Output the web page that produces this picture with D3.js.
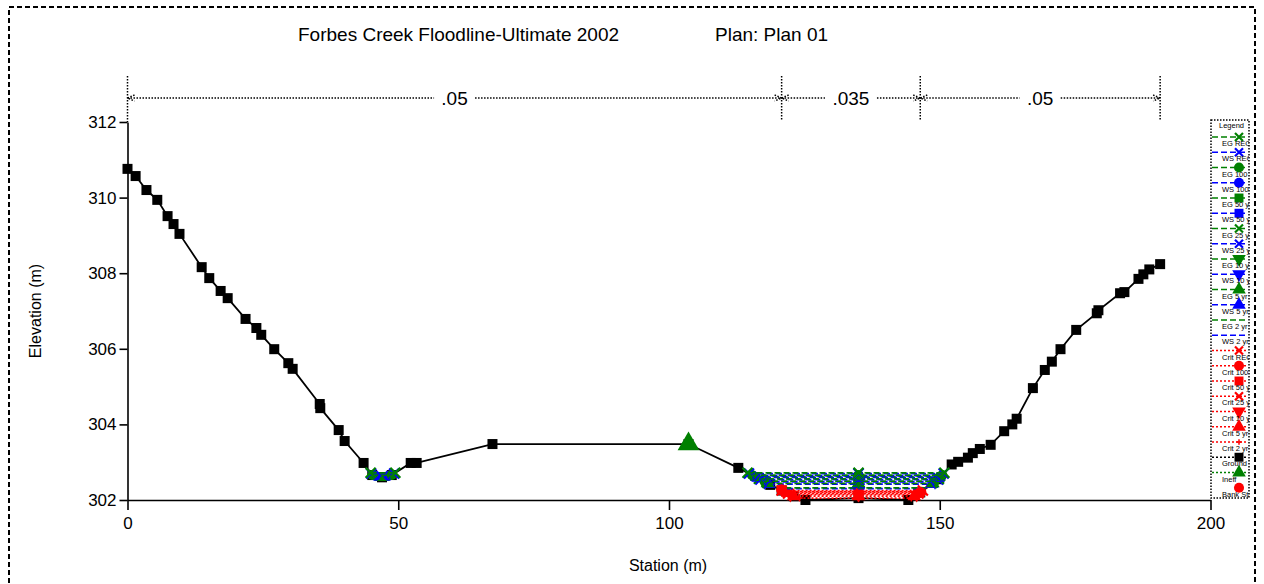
<!DOCTYPE html>
<html>
<head>
<meta charset="utf-8">
<script src="https://cdn.jsdelivr.net/npm/d3@7"></script>
<style>
  body { margin: 0; background: #fff; }
  svg { font-family: "Liberation Sans", Arial, sans-serif; }
</style>
</head>
<body>
<svg id="chart" width="1264" height="584"></svg>
<script>
// ground profile
var groundStation = [0, 1.5, 3.5, 5.5, 7.4, 8.5, 9.6, 13.7, 15.1, 17.2, 18.5, 21.8, 23.8, 24.7, 27.1, 29.7, 30.5,
  35.5, 35.6, 39.0, 40.1, 43.6, 45.2, 47.0, 48.8, 52.3, 53.4, 67.4, 103.6, 112.8, 118.7, 120.8, 123.0, 125.2,
  135.0, 144.2, 146.4, 149.8, 152.2, 153.4, 155.2, 156.1, 157.4, 159.4, 161.9, 163.4, 164.2, 167.2, 169.4,
  170.7, 172.3, 175.2, 179.0, 179.3, 183.3, 184.1, 186.7, 187.6, 188.7, 190.7]
var groundElev = [310.76, 310.57, 310.2, 309.94, 309.51, 309.3, 309.04, 308.16, 307.87, 307.53, 307.34, 306.79, 306.55,
  306.37, 305.99, 305.62, 305.47, 304.54, 304.43, 303.85, 303.56, 302.98, 302.66, 302.6, 302.66, 302.98, 302.98,
  303.48, 303.48, 302.85, 302.4, 302.25, 302.1, 302.0, 302.05, 302.0, 302.2, 302.55, 302.94, 303.01, 303.12,
  303.24, 303.35, 303.46, 303.82, 304.0, 304.15, 304.96, 305.44, 305.66, 305.99, 306.5, 306.94, 307.02, 307.47,
  307.5, 307.85, 307.97, 308.1, 308.24]

// water surface profiles
var profileNames = ['EG REG', 'WS REG', 'EG 100 yr', 'WS 100 yr', 'EG 50 yr', 'WS 50 yr', 'EG 25 yr', 'WS 25 yr',
  'EG 10 yr', 'WS 10 yr', 'EG 5 yr', 'WS 5 yr', 'EG 2 yr', 'WS 2 yr',
  'Crit REG', 'Crit 100 yr', 'Crit 50 yr', 'Crit 25 yr', 'Crit 10 yr', 'Crit 5 yr', 'Crit 2 yr']
var profileElev = [302.72, 302.70, 302.66, 302.64, 302.62, 302.60, 302.56, 302.54,
  302.50, 302.48, 302.44, 302.42, 302.32, 302.30,
  302.25, 302.22, 302.20, 302.17, 302.14, 302.10, 302.05]

var ineffStation = [103.6]
var ineffElev = [303.48]
var bankStation = [120.8, 146.4]
var bankElev = [302.27, 302.2]

// manning's n
var nStations = [0, 120.8, 146.4, 190.7]
var nValues = ['.05', '.035', '.05']

var xTicks = [0, 50, 100, 150, 200]
var yTicks = [302, 304, 306, 308, 310, 312]

var svg = d3.select('#chart')

var xScale = d3.scaleLinear().domain([0, 200]).range([127.5, 1210.5])
var yScale = d3.scaleLinear().domain([302, 312]).range([500, 122])

// outer dashed frame (bottom edge runs off the page)
svg.append('rect')
  .attr('x', 9).attr('y', 7).attr('width', 1246).attr('height', 582)
  .attr('fill', 'none').attr('stroke', '#000').attr('stroke-width', 2)
  .attr('stroke-dasharray', '5,3')

// title
svg.append('text').attr('x', 298).attr('y', 41)
  .attr('font-size', 19).text('Forbes Creek Floodline-Ultimate 2002')
svg.append('text').attr('x', 715).attr('y', 41)
  .attr('font-size', 19).text('Plan: Plan 01')

// axes
var xAxis = svg.append('g').attr('transform', 'translate(0,500)')
xAxis.call(d3.axisBottom(xScale).tickValues(d3.range(0, 201, 10)).tickSize(6).tickSizeOuter(0).tickFormat(''))
xAxis.call(d3.axisBottom(xScale).tickValues(xTicks).tickSize(10).tickSizeOuter(0).tickPadding(7))

var yAxis = svg.append('g').attr('transform', 'translate(127.5,0)')
yAxis.call(d3.axisLeft(yScale).tickValues(d3.range(302, 312.01, 0.4)).tickSize(5).tickSizeOuter(0).tickFormat(''))
yAxis.call(d3.axisLeft(yScale).tickValues(yTicks).tickSize(8).tickSizeOuter(0).tickPadding(3))

svg.selectAll('.tick text').attr('font-size', 17).attr('fill', '#000')
  .attr('font-family', '"Liberation Sans", Arial, sans-serif')
svg.selectAll('.domain, .tick line').attr('stroke', '#000').attr('stroke-width', 1.6)

svg.append('text').attr('x', 668).attr('y', 571).attr('text-anchor', 'middle')
  .attr('font-size', 16).text('Station (m)')
svg.append('text').attr('transform', 'translate(41,311) rotate(-90)').attr('text-anchor', 'middle')
  .attr('font-size', 16).text('Elevation (m)')

// manning's n band
var nY = 98
var nGroup = svg.append('g').attr('stroke', '#000').attr('stroke-width', 1.5).attr('stroke-dasharray', '1.5,1.5')
nStations.forEach(function (s, i) {
  var x = xScale(s)
  nGroup.append('line').attr('x1', x).attr('x2', x).attr('y1', 76).attr('y2', i === 0 ? 122 : 120)
  if (i > 0) {
    nGroup.append('path').attr('d', 'M' + (x - 7) + ',' + (nY - 3) + 'L' + x + ',' + nY + 'L' + (x - 7) + ',' + (nY + 3)).attr('fill', 'none')
  }
  if (i < nStations.length - 1) {
    nGroup.append('path').attr('d', 'M' + (x + 7) + ',' + (nY - 3) + 'L' + x + ',' + nY + 'L' + (x + 7) + ',' + (nY + 3)).attr('fill', 'none')
  }
})
nValues.forEach(function (v, i) {
  var x0 = xScale(nStations[i]); var x1 = xScale(nStations[i + 1])
  var mid = (x0 + x1) / 2
  var half = v.length * 5.5 + 4
  nGroup.append('line').attr('x1', x0).attr('x2', mid - half).attr('y1', nY).attr('y2', nY)
  nGroup.append('line').attr('x1', mid + half).attr('x2', x1).attr('y1', nY).attr('y2', nY)
  svg.append('text').attr('x', mid).attr('y', nY + 7).attr('text-anchor', 'middle')
    .attr('font-size', 19).text(v)
})

// styles
function profileStyle (name) {
  if (name.indexOf('EG') === 0) return { color: '#008000', dash: '6,3' }
  if (name.indexOf('WS') === 0) return { color: '#0000ff', dash: '6,3' }
  return { color: '#ff0000', dash: '2,2' }
}
function profileSymbol (name) {
  var n = name.replace(/^(EG|WS|Crit) /, '')
  if (n === 'REG' || n === '25 yr') return 'x'
  if (n === '100 yr') return 'circle'
  if (n === '50 yr') return 'square'
  if (n === '10 yr') return 'down'
  if (n === '5 yr') return 'up'
  if (name === 'Crit 2 yr') return 'plus'
  return null
}
function drawSymbol (g, type, x, y, color, size) {
  if (!type) return
  var s = size
  if (type === 'x') {
    g.append('path').attr('d', 'M' + (x - s / 2) + ',' + (y - s / 2) + 'L' + (x + s / 2) + ',' + (y + s / 2) +
      'M' + (x - s / 2) + ',' + (y + s / 2) + 'L' + (x + s / 2) + ',' + (y - s / 2))
      .attr('stroke', color).attr('stroke-width', 2.2).attr('fill', 'none')
  } else if (type === 'plus') {
    g.append('path').attr('d', 'M' + (x - s / 3) + ',' + y + 'L' + (x + s / 3) + ',' + y + 'M' + x + ',' + (y - s / 3) + 'L' + x + ',' + (y + s / 3))
      .attr('stroke', color).attr('stroke-width', 1.5)
  } else {
    var sym = { circle: d3.symbolCircle, square: d3.symbolSquare, up: d3.symbolTriangle, down: d3.symbolTriangle }[type]
    var rot = type === 'down' ? ' rotate(180)' : ''
    g.append('path').attr('d', d3.symbol().type(sym).size(s * s * 0.8)())
      .attr('transform', 'translate(' + x + ',' + y + ')' + rot)
      .attr('fill', color)
  }
}

// wet runs of a water surface against the ground
function wetRuns (ws) {
  var runs = []; var start = null
  for (var i = 1; i < groundStation.length; i++) {
    var e0 = groundElev[i - 1]; var e1 = groundElev[i]
    if ((e0 < ws) !== (e1 < ws)) {
      var xc = groundStation[i - 1] + (ws - e0) / (e1 - e0) * (groundStation[i] - groundStation[i - 1])
      if (e1 < ws) start = xc
      else if (start !== null) { runs.push([start, xc]); start = null }
    }
  }
  return runs
}

var plot = svg.append('g')

// ground line
var groundPts = groundStation.map(function (s, i) { return [s, groundElev[i]] })
var line = d3.line().x(function (d) { return xScale(d[0]) }).y(function (d) { return yScale(d[1]) })
plot.append('path').datum(groundPts).attr('d', line)
  .attr('fill', 'none').attr('stroke', '#000').attr('stroke-width', 1.8)
groundPts.forEach(function (d) {
  plot.append('rect').attr('x', xScale(d[0]) - 5).attr('y', yScale(d[1]) - 5)
    .attr('width', 10).attr('height', 10).attr('fill', '#000')
})

// water surfaces: crit first, REG last so REG sits on top
var order = d3.range(profileNames.length).reverse()
var wsGroup = plot.append('g')
order.forEach(function (i) {
  var name = profileNames[i]
  var st = profileStyle(name)
  var ws = profileElev[i]
  wetRuns(ws).forEach(function (r) {
    wsGroup.append('line')
      .attr('x1', xScale(r[0])).attr('x2', xScale(r[1]))
      .attr('y1', yScale(ws)).attr('y2', yScale(ws))
      .attr('stroke', st.color).attr('stroke-width', 1.8).attr('stroke-dasharray', st.dash)
    var marks = [r[0], r[1]]
    if (r[0] < 135 && r[1] > 135) marks.push(135)
    marks.forEach(function (m) {
      drawSymbol(wsGroup, profileSymbol(name), xScale(m), yScale(ws), st.color, 10)
    })
  })
})

// ineffective and bank stations
ineffStation.forEach(function (s, i) {
  drawSymbol(plot, 'up', xScale(s), yScale(ineffElev[i]), '#008000', 16)
})
bankStation.forEach(function (s, i) {
  drawSymbol(plot, 'circle', xScale(s), yScale(bankElev[i]), '#ff0000', 11)
})

// legend
var legendNames = profileNames.concat(['Ground', 'Ineff', 'Bank Sta'])
var lx0 = 1211; var lx1 = 1249
svg.append('clipPath').attr('id', 'legclip').append('rect')
  .attr('x', lx0).attr('y', 119).attr('width', lx1 - lx0).attr('height', 380)
var leg = svg.append('g').attr('clip-path', 'url(#legclip)')
leg.append('rect').attr('x', lx0).attr('y', 120).attr('width', lx1 - lx0).attr('height', 378)
  .attr('fill', '#fff')
leg.append('text').attr('x', 1219).attr('y', 127.5).attr('font-size', 7.5).text('Legend')
legendNames.forEach(function (name, i) {
  var ly = 137 + i * 15.25
  var color; var dash; var sym
  if (name === 'Ground') { color = '#000'; dash = '2,2'; sym = 'square' }
  else if (name === 'Ineff') { color = '#008000'; dash = '2,2'; sym = 'up' }
  else if (name === 'Bank Sta') { color = '#ff0000'; dash = null; sym = 'circle' }
  else { var st = profileStyle(name); color = st.color; dash = st.dash; sym = profileSymbol(name) }
  if (dash) {
    leg.append('line').attr('x1', lx0 + 1).attr('x2', lx1 - 1).attr('y1', ly).attr('y2', ly)
      .attr('stroke', color).attr('stroke-width', 1.6).attr('stroke-dasharray', dash)
  }
  drawSymbol(leg, sym, 1239, ly, color, sym === 'up' || sym === 'down' || sym === 'circle' || sym === 'square' ? 10 : 8)
  leg.append('text').attr('x', 1222).attr('y', ly + 9).attr('font-size', 7.5).attr('fill', '#000').text(name)
})
svg.append('rect').attr('x', lx0).attr('y', 120).attr('width', lx1 - lx0).attr('height', 378)
  .attr('fill', 'none').attr('stroke', '#000').attr('stroke-width', 1.5).attr('stroke-dasharray', '1.5,1.5')
</script>
</body>
</html>
